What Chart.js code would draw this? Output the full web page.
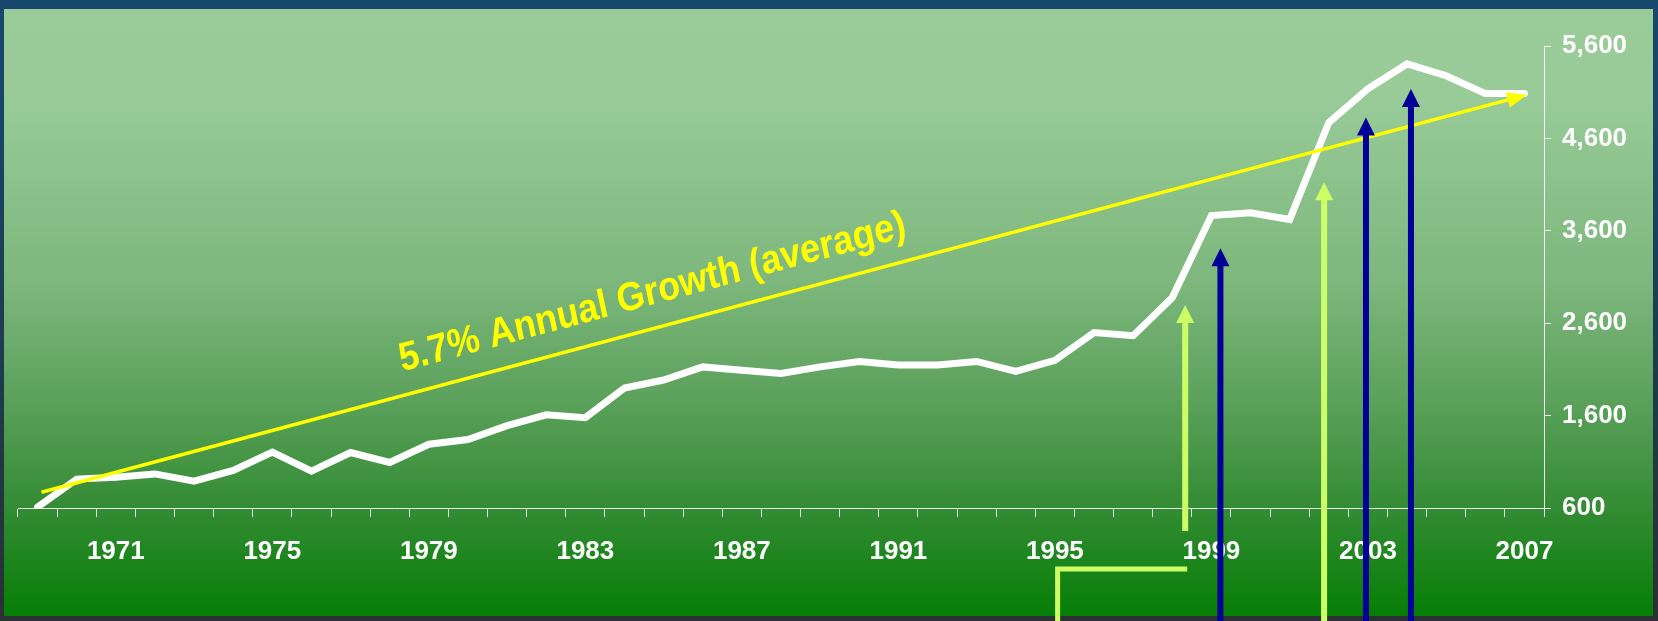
<!DOCTYPE html>
<html>
<head>
<meta charset="utf-8">
<script src="https://cdn.jsdelivr.net/npm/chart.js@4.4.1/dist/chart.umd.min.js"></script>
<style>
    html, body { margin: 0; padding: 0; background: #1b3f5a; }
    #wrap { width: 1658px; height: 621px; position: relative; }
</style>
</head>
<body>
<div id="wrap"><canvas id="chart"></canvas></div>
<script>
// ---- data ----
const years = ['1969','1970','1971','1972','1973','1974','1975','1976','1977','1978',
               '1979','1980','1981','1982','1983','1984','1985','1986','1987','1988',
               '1989','1990','1991','1992','1993','1994','1995','1996','1997','1998',
               '1999','2000','2001','2002','2003','2004','2005','2006','2007'];
const values = [610, 913, 934, 969, 891, 1007, 1204, 998, 1200, 1093,
                1290, 1341, 1492, 1608, 1578, 1899, 1985, 2127, 2092, 2057,
                2127, 2186, 2148, 2148, 2186, 2079, 2199, 2499, 2465, 2877,
                3765, 3794, 3722, 4772, 5136, 5406, 5278, 5085, 5085];
const xTickLabels = ['1971','1975','1979','1983','1987','1991','1995','1999','2003','2007'];
const yMin = 600, yMax = 5600, yStep = 1000;

// average growth arrow (start / end, in year + value)
const trendYears  = [1969.1, 2007.07];
const trendValues = [771, 5073];
const trendLabel  = '5.7% Annual Growth (average)';
const trendLabelYear = 1984.9;

// event arrows
const arrowYears = [1998.33, 1999.23, 2001.88, 2002.95, 2004.1];
const arrowTips  = [2797, 3411, 4126, 4825, 5134];
const arrowKinds = ['light', 'navy', 'light', 'navy', 'navy'];
const connectorYear = 1995.07;

// ---- style ----
const FONT = '"Liberation Sans", Arial, sans-serif';
const COLORS = { navy: '#000099', light: '#ccff66', trend: '#ffff00', line: '#ffffff' };
const firstYear = Number(years[0]);

const backgroundPlugin = {
    id: 'panel',
    beforeDraw(chart) {
        const { ctx, width, height } = chart;
        ctx.save();
        const bg = ctx.createLinearGradient(0, 0, 0, height);
        bg.addColorStop(0, '#18486e');
        bg.addColorStop(0.6, '#1c3b50');
        bg.addColorStop(1, '#2b3033');
        ctx.fillStyle = bg;
        ctx.fillRect(0, 0, width, height);

        const top = 9, bottom = 616;
        const g = ctx.createLinearGradient(0, top, 0, bottom);
        g.addColorStop(0,    '#99cc99');
        g.addColorStop(0.14, '#98cb98');
        g.addColorStop(0.45, '#7db77d');
        g.addColorStop(0.65, '#5aa05a');
        g.addColorStop(0.82, '#348c34');
        g.addColorStop(1,    '#057e05');
        ctx.fillStyle = g;
        ctx.fillRect(4, top, 1649, bottom - top);
        ctx.restore();
    }
};

const trendPlugin = {
    id: 'trend',
    afterDatasetsDraw(chart) {
        const { ctx, scales: { x, y } } = chart;
        const x0 = x.getPixelForValue(trendYears[0] - firstYear);
        const y0 = y.getPixelForValue(trendValues[0]);
        const x1 = x.getPixelForValue(trendYears[1] - firstYear);
        const y1 = y.getPixelForValue(trendValues[1]);
        const ang = Math.atan2(y1 - y0, x1 - x0);
        const head = 20, half = 8;

        ctx.save();
        ctx.strokeStyle = COLORS.trend;
        ctx.fillStyle = COLORS.trend;
        ctx.lineWidth = 3.5;
        ctx.beginPath();
        ctx.moveTo(x0, y0);
        ctx.lineTo(x1 - Math.cos(ang) * head * 0.8, y1 - Math.sin(ang) * head * 0.8);
        ctx.stroke();

        ctx.translate(x1, y1);
        ctx.rotate(ang);
        ctx.beginPath();
        ctx.moveTo(0, 0);
        ctx.lineTo(-head, -half);
        ctx.lineTo(-head, half);
        ctx.closePath();
        ctx.fill();
        ctx.restore();

        // label along the arrow, slightly stretched vertically like the original slide
        const stretch = 1.12;
        const t = (trendLabelYear - trendYears[0]) / (trendYears[1] - trendYears[0]);
        ctx.save();
        ctx.translate(x0 + (x1 - x0) * t, y0 + (y1 - y0) * t);
        ctx.scale(1, stretch);
        ctx.rotate(Math.atan(Math.tan(ang) / stretch));
        ctx.fillStyle = COLORS.trend;
        ctx.font = 'bold 36px "Liberation Sans", Arial, sans-serif';
        ctx.textAlign = 'center';
        ctx.textBaseline = 'alphabetic';
        ctx.fillText(trendLabel, 0, -21);
        ctx.restore();
    }
};

const arrowsPlugin = {
    id: 'events',
    afterDraw(chart) {
        const { ctx, height, scales: { x, y } } = chart;
        const head = 18, half = 9;
        ctx.save();
        ctx.lineCap = 'butt';

        // connector from the bottom edge into the first arrow
        const cx = x.getPixelForValue(connectorYear - firstYear);
        const firstX = x.getPixelForValue(arrowYears[0] - firstYear);
        const cy = y.bottom + 61;
        ctx.strokeStyle = COLORS.light;
        ctx.lineWidth = 5;
        ctx.lineJoin = 'miter';
        ctx.beginPath();
        ctx.moveTo(cx, height);
        ctx.lineTo(cx, cy);
        ctx.lineTo(firstX + 2, cy);
        ctx.stroke();

        arrowYears.forEach((yr, i) => {
            const ax = x.getPixelForValue(yr - firstYear);
            const tip = y.getPixelForValue(arrowTips[i]);
            const base = i === 0 ? y.bottom + 23 : height;
            const col = COLORS[arrowKinds[i]];
            ctx.strokeStyle = col;
            ctx.fillStyle = col;
            ctx.lineWidth = 6;
            ctx.beginPath();
            ctx.moveTo(ax, base);
            ctx.lineTo(ax, tip + head - 1);
            ctx.stroke();
            ctx.beginPath();
            ctx.moveTo(ax, tip);
            ctx.lineTo(ax - half, tip + head);
            ctx.lineTo(ax + half, tip + head);
            ctx.closePath();
            ctx.fill();
        });
        ctx.restore();
    }
};

new Chart(document.getElementById('chart'), {
    type: 'line',
    data: {
        labels: years,
        datasets: [{
            data: values,
            borderColor: COLORS.line,
            borderWidth: 7,
            borderCapStyle: 'round',
            borderJoinStyle: 'miter',
            pointRadius: 0,
            tension: 0,
            fill: false,
        }]
    },
    options: {
        responsive: true,
        maintainAspectRatio: false,
        animation: false,
        layout: { padding: { left: 18, top: 46, right: 0, bottom: 0 } },
        plugins: { legend: { display: false }, tooltip: { enabled: false } },
        scales: {
            x: {
                type: 'category',
                offset: true,
                grid: {
                    display: true,
                    drawOnChartArea: false,
                    offset: true,
                    color: 'rgba(255,255,255,0.85)',
                    tickLength: 9,
                    lineWidth: 1,
                },
                border: { display: true, color: 'rgba(255,255,255,0.9)', width: 1 },
                ticks: {
                    autoSkip: false,
                    maxRotation: 0,
                    color: '#ffffff',
                    padding: 19,
                    font: { family: FONT, weight: 'bold', size: 26 },
                    callback: (v, i) => xTickLabels.includes(years[i]) ? years[i] : '',
                },
                afterFit: s => { s.height = 113; },
            },
            y: {
                position: 'right',
                min: yMin,
                max: yMax,
                grid: {
                    drawOnChartArea: false,
                    color: 'rgba(255,255,255,0.9)',
                    tickLength: 7,
                },
                border: { display: true, color: 'rgba(255,255,255,0.9)', width: 1 },
                ticks: {
                    stepSize: yStep,
                    color: '#ffffff',
                    padding: 11,
                    font: { family: FONT, weight: 'bold', size: 26 },
                    callback: v => v.toLocaleString('en-US'),
                },
                afterFit: s => { s.width = 114; },
            }
        }
    },
    plugins: [backgroundPlugin, trendPlugin, arrowsPlugin]
});
</script>
</body>
</html>
